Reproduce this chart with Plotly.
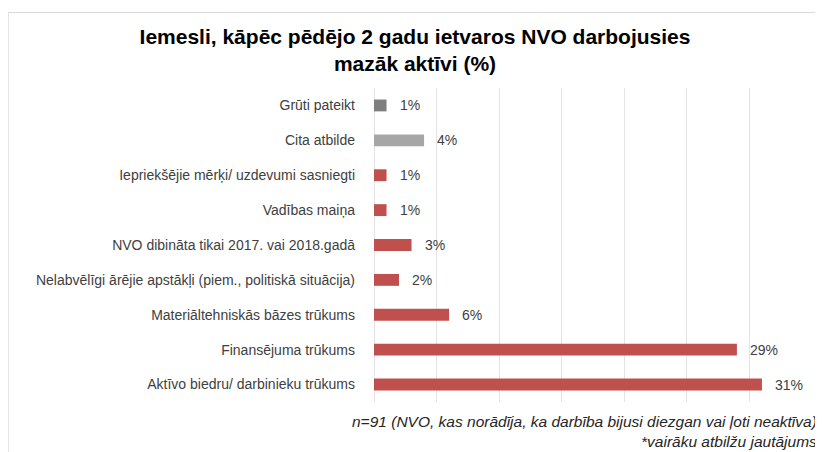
import plotly.graph_objects as go

categories = [
    "Grūti pateikt",
    "Cita atbilde",
    "Iepriekšējie mērķi/ uzdevumi sasniegti",
    "Vadības maiņa",
    "NVO dibināta tikai 2017. vai 2018.gadā",
    "Nelabvēlīgi ārējie apstākļi (piem., politiskā situācija)",
    "Materiāltehniskās bāzes trūkums",
    "Finansējuma trūkums",
    "Aktīvo biedru/ darbinieku trūkums",
]
values = [1, 4, 1, 1, 3, 2, 6, 29, 31]
value_labels = ["1%", "4%", "1%", "1%", "3%", "2%", "6%", "29%", "31%"]

title_text = "<b>Iemesli, kāpēc pēdējo 2 gadu ietvaros NVO darbojusies</b><br><b>mazāk aktīvi (%)</b>"
footnote_lines = ["n=91 (NVO, kas norādīja, ka darbība bijusi diezgan vai ļoti neaktīva)",
                  "*vairāku atbilžu jautājums"]

bar_colors = ["#7f7f7f", "#a6a6a6"] + ["#c0504d"] * (len(categories) - 2)

# page has an 8px body margin; work in figure pixel coords
OFF = 8
W, H = 823 - OFF, 452 - OFF
L, R, T, B = 374 - OFF, W - (811.7 - OFF), 88 - OFF, H - (402 - OFF)
pw, ph = W - L - R, H - T - B

def px_to_paper_x(px):
    return (px - OFF - L) / pw

def px_to_paper_y(py):
    return (H - B - (py - OFF)) / ph

FONT = "Liberation Sans, Arial"

fig = go.Figure()
fig.add_trace(go.Bar(
    x=values, y=categories, orientation="h",
    marker=dict(color=bar_colors, line=dict(width=0)),
    hoverinfo="skip",
))

annotations = []
for c, v, t in zip(categories, values, value_labels):
    annotations.append(dict(
        x=v, y=c, xref="x", yref="y", text=t, showarrow=False,
        xanchor="left", yanchor="middle", xshift=11,
        font=dict(family=FONT, size=14, color="#404040"),
    ))
annotations.append(dict(
    x=px_to_paper_x(819), y=px_to_paper_y(411), xref="paper", yref="paper",
    text="<br>".join("<i>" + s + "</i>" for s in footnote_lines),
    showarrow=False, xanchor="right", yanchor="top", align="right",
    font=dict(family=FONT, size=15.5, color="#262626"),
))

fig.update_layout(
    width=W, height=H,
    margin=dict(l=L, r=R, t=T, b=B, autoexpand=False),
    paper_bgcolor="white", plot_bgcolor="white",
    bargap=0.66,
    showlegend=False,
    title=dict(
        text=title_text, x=(415 - OFF) / W, xanchor="center", xref="container",
        y=1 - 36 / H, yanchor="top", yref="container",
        font=dict(family=FONT, size=21, color="#000000"),
    ),
    xaxis=dict(
        range=[0, 35], dtick=5, showgrid=True, gridcolor="#e3e3e3", gridwidth=1,
        showticklabels=False, zeroline=True, zerolinecolor="#e3e3e3", zerolinewidth=1,
        showline=False, ticks="",
    ),
    yaxis=dict(
        autorange="reversed", showgrid=False, showline=False, ticks="",
        ticklabelstandoff=18,
        tickfont=dict(family=FONT, size=14, color="#404040"),
    ),
    annotations=annotations,
    shapes=[dict(
        type="rect", xref="paper", yref="paper",
        x0=px_to_paper_x(8.5), x1=px_to_paper_x(840),
        y0=px_to_paper_y(480), y1=px_to_paper_y(12.5),
        line=dict(color="#d9d9d9", width=1), fillcolor="rgba(0,0,0,0)", layer="below",
    )],
)

fig.write_html("out.html")
